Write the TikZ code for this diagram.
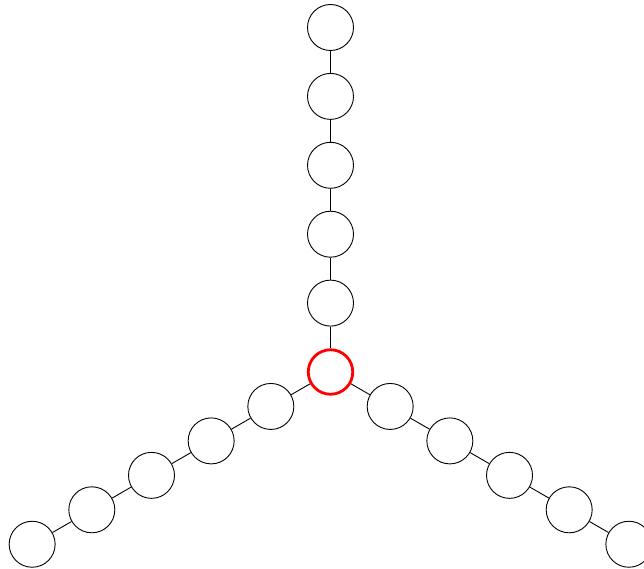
\documentclass[tikz,border=0pt]{standalone}
\begin{document}
\begin{tikzpicture}[x=1pt,y=-1pt,
  vnode/.style={circle,draw=black,line width=0.9pt,minimum size=46pt,inner sep=0pt},
  rootnode/.style={circle,draw=red,line width=2.8pt,minimum size=44.5pt,inner sep=0pt},
  edge/.style={draw=black,line width=0.9pt}]
\useasboundingbox (0,0) rectangle (644,569);
\clip (0,0) rectangle (644,569);
\node[rootnode] (c) at (330.5,372) {};
\foreach \i in {1,...,5}{
  \node[vnode] (u\i) at (330.5,{372-68.9*\i}) {};
  \node[vnode] (l\i) at ({330.5-59.67*\i},{372+34.45*\i}) {};
  \node[vnode] (r\i) at ({330.5+59.67*\i},{372+34.45*\i}) {};
}
\draw[edge] (c) -- (u1);
\draw[edge] (c) -- (l1);
\draw[edge] (c) -- (r1);
\foreach \a/\b in {1/2,2/3,3/4,4/5}{
  \draw[edge] (u\a) -- (u\b);
  \draw[edge] (l\a) -- (l\b);
  \draw[edge] (r\a) -- (r\b);
}
\end{tikzpicture}
\end{document}
